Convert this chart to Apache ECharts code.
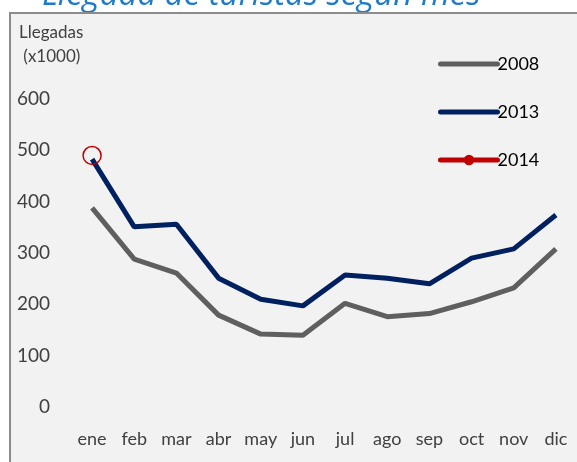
<!DOCTYPE html>
<html lang="es">
<head>
  <meta charset="UTF-8">
  <title>Llegada de turistas según mes</title>
  <style>
    html, body { margin: 0; padding: 0; background: #fff; }
    #chart { width: 577px; height: 462px; }
  </style>
  <script src="https://cdn.jsdelivr.net/npm/echarts@6.0.0/dist/echarts.min.js"></script>
</head>
<body>
  <div id="chart"></div>
  <script>
    var meses = ['ene','feb','mar','abr','may','jun','jul','ago','sep','oct','nov','dic'];
    var serie2008 = [388, 288, 261, 179, 142, 140, 202, 176, 182, 205, 232, 308];
    var serie2013 = [483, 351, 356, 251, 210, 197, 257, 251, 240, 290, 308, 374];
    var serie2014 = [490, null, null, null, null, null, null, null, null, null, null, null];
    var yTicks = [0, 100, 200, 300, 400, 500, 600];

    var font = 'Lato, "Open Sans", sans-serif';
    var chart = echarts.init(document.getElementById('chart'));
    chart.setOption({
      backgroundColor: '#fff',
      animation: false,
      graphic: [
        { type: 'rect', z: -10, shape: { x: 10, y: 13, width: 600, height: 500 },
          style: { fill: '#F2F2F2', stroke: '#8C8C8C', lineWidth: 2 } },
        { type: 'text', left: 42, top: -21, z: -20,
          style: { text: 'Llegada de turistas según mes', fill: '#1F7BC8',
                   font: 'italic 33px "Open Sans", sans-serif' } },
        { type: 'text', left: 19, top: 24,
          style: { text: 'Llegadas', fill: '#404040', font: '17px ' + font } },
        { type: 'text', left: 19, top: 48,
          style: { text: ' (x1000)', fill: '#404040', font: '17px ' + font } }
      ],
      legend: {
        orient: 'vertical',
        left: 438,
        top: 55,
        padding: 0,
        itemWidth: 57,
        itemHeight: 13,
        itemGap: 30,
        lineStyle: { width: 5, cap: 'round' },
        textStyle: { fontFamily: font, fontSize: 18, lineHeight: 16, color: '#000', padding: [0, 0, 0, -5] },
        data: [
          { name: '2008', itemStyle: { opacity: 0 } },
          { name: '2013', itemStyle: { opacity: 0 } },
          { name: '2014', itemStyle: { color: '#C00000', borderWidth: 0 } }
        ]
      },
      grid: { left: 71, width: 508, top: 99, height: 308 },
      xAxis: {
        type: 'category',
        data: meses,
        axisLine: { show: false },
        axisTick: { show: false },
        axisLabel: { interval: 0, fontFamily: font, fontSize: 18, color: '#404040', margin: 23 }
      },
      yAxis: {
        type: 'value',
        min: yTicks[0],
        max: yTicks[yTicks.length - 1],
        interval: 100,
        splitLine: { show: false },
        axisLine: { show: false },
        axisTick: { show: false },
        axisLabel: { fontFamily: font, fontSize: 19, color: '#404040', margin: 21 }
      },
      series: [
        { name: '2008', type: 'line', data: serie2008, symbol: 'none',
          lineStyle: { color: '#5F5F5F', width: 5 }, itemStyle: { color: '#5F5F5F' } },
        { name: '2013', type: 'line', data: serie2013, symbol: 'none',
          lineStyle: { color: '#002060', width: 5 }, itemStyle: { color: '#002060' } },
        { name: '2014', type: 'line', data: serie2014, symbol: 'circle', symbolSize: 18,
          lineStyle: { color: '#C00000', width: 5 },
          itemStyle: { color: 'rgba(0,0,0,0)', borderColor: '#C00000', borderWidth: 1.5 } }
      ]
    });
  </script>
</body>
</html>
